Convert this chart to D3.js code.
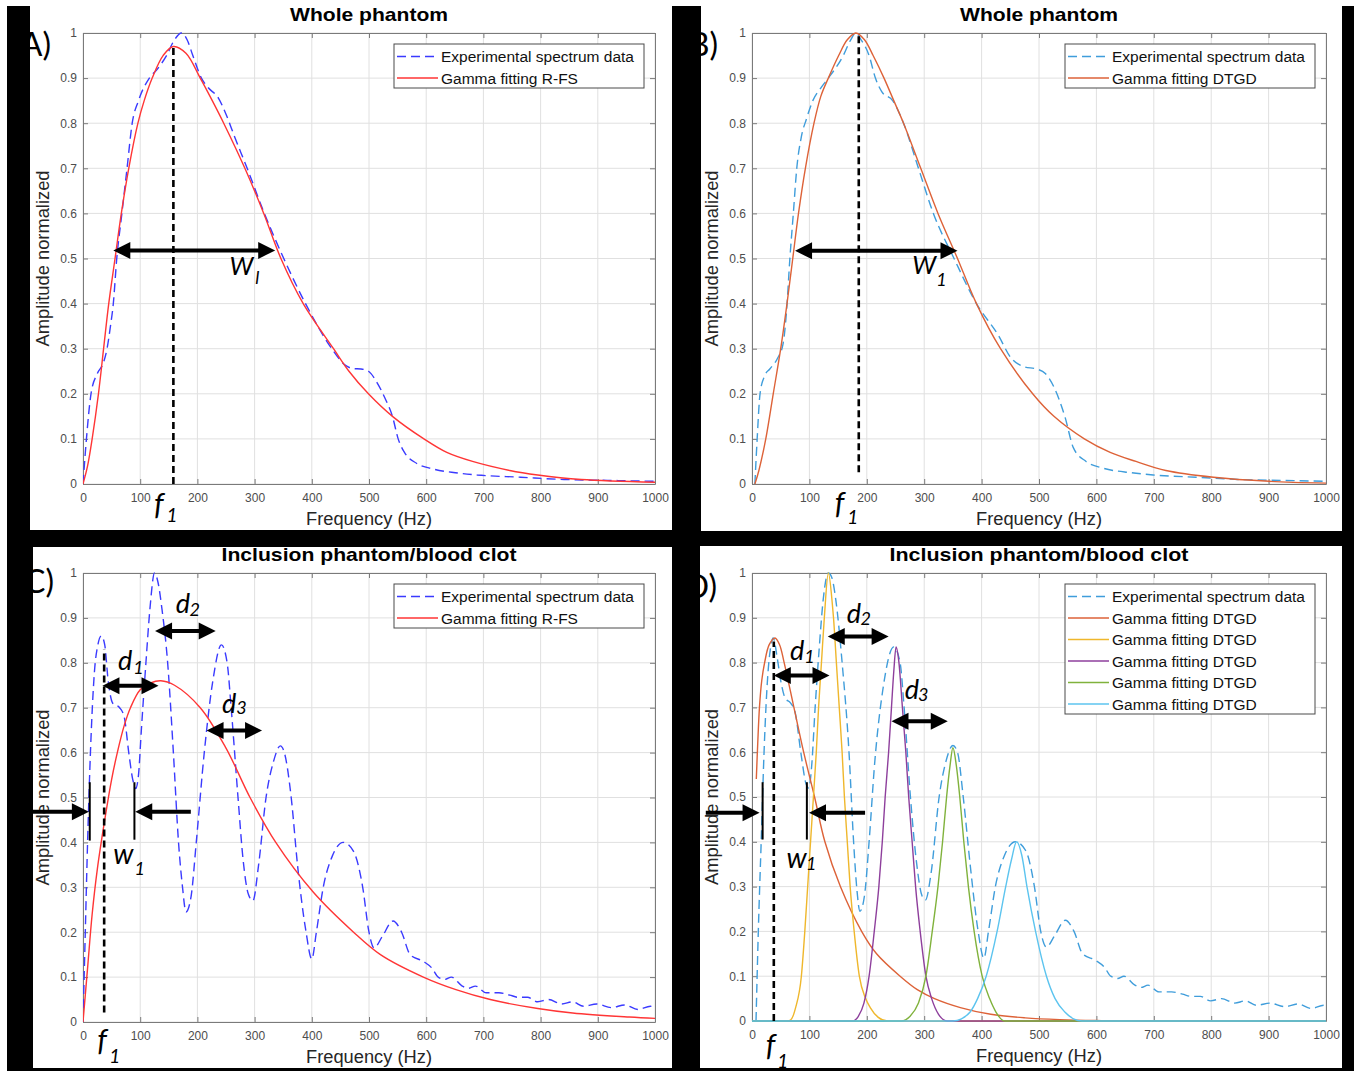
<!DOCTYPE html>
<html>
<head>
<meta charset="utf-8">
<script src="https://cdn.jsdelivr.net/npm/d3@7"></script>
<style>
  body { margin: 0; background: #fff; }
</style>
</head>
<body>
<div id="chart"></div>
<script>
const width = 1354;
const height = 1071;

// ---- Data: [frequency Hz, normalized amplitude] ----
const xTicks = d3.range(0, 1001, 100);
const yTicks = d3.range(0, 11).map(i => i / 10);

// A) whole phantom, R-FS
const expA = [[0,0],[6,0.1],[14,0.2],[25,0.245],[36,0.27],[42,0.3],[48,0.35],[53,0.4],[59,0.5],[68,0.6],[77,0.7],[86,0.8],[97,0.85],[116,0.9],[130,0.92],[146,0.95],[160,0.985],[172,1.0],[182,0.985],[192,0.95],[207,0.9],[218,0.88],[237,0.855],[250,0.82],[265,0.77],[287,0.7],[317,0.6],[351,0.5],[389,0.4],[435,0.3],[457,0.265],[472,0.256],[486,0.255],[499,0.25],[514,0.225],[528,0.19],[541,0.15],[551,0.1],[562,0.07],[583,0.046],[613,0.033],[651,0.025],[689,0.02],[765,0.015],[841,0.01],[917,0.008],[1000,0.006]];
const fitA = [[0,0],[8,0.04],[16,0.1],[27,0.2],[36,0.3],[45,0.4],[56,0.5],[67,0.6],[80,0.7],[96,0.8],[107,0.85],[121,0.9],[140,0.95],[158,0.97],[180,0.955],[205,0.9],[226,0.85],[246,0.8],[283,0.7],[316,0.6],[346,0.5],[385,0.4],[438,0.3],[465,0.25],[499,0.2],[541,0.15],[596,0.1],[636,0.07],[681,0.05],[746,0.03],[795,0.02],[871,0.01],[1000,0.004]];

// B) whole phantom, DTGD
const expB = [[5,0],[9,0.1],[14,0.2],[22,0.24],[31,0.255],[45,0.28],[54,0.31],[60,0.38],[66,0.5],[72,0.6],[78,0.7],[86,0.77],[95,0.81],[106,0.85],[121,0.88],[133,0.9],[159,0.95],[172,0.985],[181,1.0],[190,0.985],[204,0.95],[215,0.9],[226,0.87],[245,0.85],[264,0.8],[290,0.7],[316,0.6],[352,0.5],[391,0.4],[429,0.33],[451,0.28],[474,0.26],[496,0.255],[511,0.245],[526,0.215],[545,0.15],[560,0.08],[582,0.05],[612,0.035],[661,0.025],[699,0.02],[774,0.015],[849,0.01],[924,0.008],[1000,0.006]];
const fitB = [[5,0],[12,0.03],[24,0.1],[37,0.2],[50,0.3],[61,0.4],[71,0.5],[81,0.6],[93,0.7],[108,0.8],[120,0.86],[133,0.9],[151,0.95],[166,0.985],[181,1.0],[196,0.985],[211,0.95],[230,0.9],[247,0.85],[264,0.8],[294,0.7],[324,0.6],[358,0.5],[391,0.4],[433,0.3],[489,0.2],[526,0.15],[579,0.1],[624,0.07],[669,0.05],[721,0.03],[804,0.015],[901,0.006],[1000,0.002]];

// C) inclusion phantom / blood clot, R-FS
const expC = [[0,0],[4,0.2],[8,0.4],[13,0.6],[20,0.78],[26,0.84],[32,0.86],[38,0.84],[44,0.76],[52,0.71],[64,0.7],[72,0.68],[80,0.6],[87,0.54],[92,0.52],[97,0.55],[102,0.65],[110,0.8],[117,0.92],[125,1.0],[131,0.98],[138,0.92],[148,0.8],[158,0.6],[167,0.4],[174,0.3],[180,0.245],[189,0.28],[198,0.4],[212,0.6],[227,0.76],[242,0.84],[252,0.8],[259,0.7],[271,0.5],[280,0.36],[289,0.285],[297,0.27],[307,0.35],[320,0.5],[333,0.58],[345,0.615],[352,0.6],[364,0.5],[375,0.35],[390,0.2],[400,0.14],[408,0.2],[420,0.3],[436,0.37],[455,0.4],[473,0.38],[489,0.3],[500,0.2],[509,0.165],[523,0.19],[542,0.225],[557,0.2],[572,0.15],[595,0.135],[610,0.12],[621,0.1],[633,0.095],[644,0.1],[663,0.08],[674,0.075],[686,0.08],[705,0.065],[727,0.065],[746,0.06],[761,0.055],[777,0.055],[795,0.045],[814,0.05],[837,0.04],[856,0.045],[875,0.035],[898,0.04],[924,0.032],[947,0.038],[970,0.028],[992,0.035],[1000,0.033]];
const fitC = [[0,0],[8,0.12],[16,0.24],[25,0.34],[38,0.45],[50,0.54],[60,0.6],[72,0.66],[83,0.7],[100,0.74],[118,0.755],[136,0.76],[160,0.75],[205,0.7],[250,0.61],[292,0.5],[337,0.4],[402,0.29],[473,0.2],[520,0.15],[595,0.1],[652,0.072],[712,0.05],[795,0.03],[856,0.02],[955,0.011],[1000,0.008]];

// D) inclusion phantom / blood clot, DTGD (five gamma components)
const expD = [[7,0],[11,0.2],[16,0.4],[21,0.6],[28,0.78],[32,0.83],[37,0.855],[44,0.81],[50,0.76],[58,0.72],[67,0.71],[75,0.69],[85,0.6],[94,0.53],[99,0.52],[104,0.57],[110,0.7],[117,0.83],[124,0.94],[133,1.0],[139,0.99],[146,0.94],[157,0.8],[169,0.6],[177,0.4],[183,0.29],[188,0.245],[196,0.28],[204,0.4],[214,0.58],[228,0.74],[247,0.835],[258,0.8],[265,0.7],[276,0.5],[287,0.35],[296,0.28],[302,0.27],[312,0.33],[326,0.5],[338,0.58],[350,0.615],[358,0.6],[368,0.5],[380,0.35],[394,0.2],[404,0.14],[412,0.2],[424,0.3],[440,0.37],[459,0.4],[477,0.38],[492,0.3],[503,0.2],[513,0.165],[527,0.19],[546,0.225],[561,0.2],[576,0.15],[599,0.135],[614,0.12],[625,0.1],[637,0.095],[648,0.1],[667,0.08],[678,0.075],[690,0.08],[709,0.065],[731,0.065],[750,0.06],[765,0.055],[781,0.055],[799,0.045],[818,0.05],[841,0.04],[860,0.045],[879,0.035],[902,0.04],[928,0.032],[951,0.038],[974,0.028],[996,0.035],[1000,0.034]];
const fitD1 = [[7.5,0.54],[10,0.62],[13,0.7],[17,0.76],[22,0.8],[30,0.84],[40,0.855],[48,0.84],[56,0.8],[73,0.7],[90,0.6],[109,0.5],[127,0.4],[154,0.3],[191,0.2],[217,0.15],[258,0.1],[288,0.07],[318,0.05],[363,0.03],[416,0.015],[476,0.007],[536,0.003],[600,0.001],[700,0],[1000,0]];
const fitD2 = [[0,0],[60,0],[67,0.002],[76,0.03],[86,0.1],[92,0.2],[97,0.3],[102,0.4],[107,0.5],[112,0.6],[116,0.7],[121,0.8],[126,0.9],[133,1.0],[140,0.93],[142,0.9],[147,0.8],[152,0.7],[157,0.6],[161,0.5],[166,0.4],[171,0.3],[178,0.2],[187,0.1],[198,0.05],[206,0.03],[220,0.008],[236,0],[1000,0]];
const fitD3 = [[0,0],[175,0],[185,0.01],[195,0.04],[204,0.1],[213,0.2],[221,0.3],[227,0.4],[232,0.5],[238,0.6],[243,0.7],[247,0.78],[251,0.835],[256,0.8],[262,0.7],[268,0.6],[273,0.5],[279,0.4],[285,0.3],[293,0.2],[303,0.1],[313,0.05],[325,0.015],[340,0],[1000,0]];
const fitD4 = [[0,0],[260,0],[275,0.01],[290,0.04],[303,0.1],[314,0.2],[324,0.3],[332,0.4],[339,0.5],[345,0.57],[350,0.61],[356,0.57],[362,0.5],[369,0.4],[377,0.3],[387,0.2],[401,0.1],[414,0.05],[425,0.02],[440,0],[1000,0]];
const fitD5 = [[0,0],[350,0],[365,0.005],[380,0.02],[393,0.05],[408,0.1],[427,0.2],[442,0.3],[452,0.36],[461,0.4],[470,0.37],[479,0.3],[494,0.2],[513,0.1],[528,0.05],[545,0.02],[560,0.005],[575,0],[1000,0]];

// Annotations, in data units (Hz, amplitude)
const annA = {
  fLine: [158, 0, 0.97],
  arrows: [[53, 336, 0.518, true]],
  bars: [],
  labels: [["W", 256, 0.463, 25], ["l", 301, 0.443, 18], ["f", 124, -0.069, 30], ["1", 146, -0.084, 19]]
};
const annB = {
  fLine: [186, 0.026, 1.0],
  arrows: [[75, 358, 0.517, true]],
  bars: [],
  labels: [["W", 279, 0.465, 25], ["1", 321, 0.44, 18], ["f", 144, -0.066, 30], ["1", 166, -0.089, 19]]
};
const annC = {
  fLine: [37, 0.021, 0.83],
  arrows: [[34, 132, 0.749, true], [126, 232, 0.871, true], [216, 313, 0.649, true],
           [-88, 10.3, 0.468, false], [188.5, 91.4, 0.468, false]],
  bars: [[11.8, 0.404, 0.534], [89.9, 0.406, 0.534]],
  labels: [["d", 61, 0.783, 27], ["1", 88, 0.775, 18], ["d", 162, 0.911, 27], ["2", 186, 0.904, 18],
           ["d", 243, 0.689, 27], ["3", 268, 0.685, 18], ["w", 53, 0.353, 28], ["1", 90, 0.328, 18],
           ["f", 25, -0.065, 30], ["1", 46, -0.092, 19]]
};
const annD = {
  fLine: [38, 0, 0.847],
  arrows: [[38, 135, 0.771, true], [132, 238, 0.858, true], [243, 341, 0.669, true],
           [-80.5, 13.2, 0.465, false], [197, 99.3, 0.465, false]],
  bars: [[18.5, 0.405, 0.533], [95.6, 0.405, 0.533]],
  labels: [["d", 66, 0.805, 27], ["1", 91, 0.8, 18], ["d", 165, 0.888, 27], ["2", 189, 0.884, 18],
           ["d", 266, 0.718, 27], ["3", 289, 0.714, 18], ["w", 60, 0.342, 28], ["1", 94, 0.337, 18],
           ["f", 24, -0.079, 30], ["1", 44, -0.106, 19]]
};

// Colors (MATLAB-like)
const blueDash = "#3a3aff";
const redFit = "#ff3535";
const blueExp = "#3f9ddb";
const orange = "#dd6238";
const yellow = "#efb72c";
const purple = "#8e3f9c";
const green = "#80b23c";
const cyan = "#5cc4ef";

const panels = [
  { id: "A", frame: [30, 0, 672, 530], plot: [83, 33, 655, 484], title: "Whole phantom", titleW: 158,
    letter: [51, 56], letterText: "A)",
    series: [{ data: expA, color: blueDash, dash: "9,5", name: "Experimental spectrum data" },
             { data: fitA, color: redFit, name: "Gamma fitting R-FS", smooth: true }],
    ann: annA },
  { id: "B", frame: [701, 0, 1342, 531], plot: [752, 33, 1326, 484], title: "Whole phantom", titleW: 158,
    letter: [718, 56], letterText: "B)",
    series: [{ data: expB, color: blueExp, dash: "9,5", name: "Experimental spectrum data" },
             { data: fitB, color: orange, name: "Gamma fitting DTGD", smooth: true }],
    ann: annB },
  { id: "C", frame: [33, 547, 672, 1068], plot: [83, 573, 655, 1022], title: "Inclusion phantom/blood clot", titleW: 295,
    letter: [54, 593], letterText: "C)",
    series: [{ data: expC, color: blueDash, dash: "9,5", name: "Experimental spectrum data" },
             { data: fitC, color: redFit, name: "Gamma fitting R-FS", smooth: true }],
    ann: annC },
  { id: "D", frame: [700, 546, 1342, 1068], plot: [752, 573, 1326, 1021], title: "Inclusion phantom/blood clot", titleW: 299,
    letter: [717, 598], letterText: "D)",
    series: [{ data: expD, color: blueExp, dash: "9,5", name: "Experimental spectrum data" },
             { data: fitD1, color: orange, name: "Gamma fitting DTGD", smooth: true },
             { data: fitD2, color: yellow, name: "Gamma fitting DTGD" },
             { data: fitD3, color: purple, name: "Gamma fitting DTGD" },
             { data: fitD4, color: green, name: "Gamma fitting DTGD" },
             { data: fitD5, color: cyan, name: "Gamma fitting DTGD" }],
    ann: annD }
];

const svg = d3.select("#chart")
  .append("svg")
  .attr("width", width)
  .attr("height", height)
  .style("display", "block")
  .style("background", "#fff");

// black backdrop between panels
svg.append("rect")
  .attr("x", 7).attr("y", 6)
  .attr("width", width - 7).attr("height", height - 6)
  .attr("fill", "#000");

const defs = svg.append("defs");
const sansFont = "'Liberation Sans', Arial, Helvetica, sans-serif";
const noteFont = "Lato, 'Open Sans', sans-serif";

panels.forEach(drawPanel);

function drawPanel(p) {
  const [fx0, fy0, fx1, fy1] = p.frame;
  const [l, t, r, b] = p.plot;

  defs.append("clipPath").attr("id", "frame" + p.id)
    .append("rect").attr("x", fx0).attr("y", fy0).attr("width", fx1 - fx0).attr("height", fy1 - fy0);
  defs.append("clipPath").attr("id", "plot" + p.id)
    .append("rect").attr("x", l).attr("y", t - 1).attr("width", r - l).attr("height", b - t + 2);

  const g = svg.append("g").attr("clip-path", `url(#frame${p.id})`);
  g.append("rect")
    .attr("x", fx0).attr("y", fy0)
    .attr("width", fx1 - fx0).attr("height", fy1 - fy0)
    .attr("fill", "#fff");

  const x = d3.scaleLinear().domain([0, 1000]).range([l, r]);
  const y = d3.scaleLinear().domain([0, 1]).range([b, t]);

  // grid
  g.append("g").selectAll("line").data(xTicks).join("line")
    .attr("x1", d => x(d)).attr("x2", d => x(d)).attr("y1", t).attr("y2", b)
    .attr("stroke", "#e0e0e0").attr("stroke-width", 1);
  g.append("g").selectAll("line").data(yTicks).join("line")
    .attr("x1", l).attr("x2", r).attr("y1", d => y(d)).attr("y2", d => y(d))
    .attr("stroke", "#e0e0e0").attr("stroke-width", 1);

  // axes (MATLAB style: ticks inside, box on)
  const fmt = d3.format("~g");
  const axisColor = "#7a7a7a";
  const xAxis = g.append("g").attr("transform", `translate(0,${b})`)
    .call(d3.axisBottom(x).tickValues(xTicks).tickSizeInner(-5).tickSizeOuter(0).tickPadding(9).tickFormat(fmt));
  const yAxis = g.append("g").attr("transform", `translate(${l},0)`)
    .call(d3.axisLeft(y).tickValues(yTicks).tickSizeInner(-5).tickSizeOuter(0).tickPadding(6).tickFormat(fmt));
  const xTop = g.append("g").attr("transform", `translate(0,${t})`)
    .call(d3.axisTop(x).tickValues(xTicks).tickSizeInner(-5).tickSizeOuter(0).tickFormat(""));
  const yRight = g.append("g").attr("transform", `translate(${r},0)`)
    .call(d3.axisRight(y).tickValues(yTicks).tickSizeInner(-5).tickSizeOuter(0).tickFormat(""));
  [xAxis, yAxis, xTop, yRight].forEach(a => {
    a.selectAll(".domain").attr("stroke", axisColor);
    a.selectAll(".tick line").attr("stroke", axisColor);
    a.selectAll("text")
      .attr("fill", "#4d4d4d")
      .style("font-family", sansFont)
      .style("font-size", "12px");
  });

  // title and axis labels
  g.append("text")
    .attr("x", (l + r) / 2).attr("y", t - 12)
    .attr("text-anchor", "middle")
    .attr("textLength", p.titleW).attr("lengthAdjust", "spacingAndGlyphs")
    .style("font-family", sansFont).style("font-weight", "bold").style("font-size", "19px")
    .attr("fill", "#000")
    .text(p.title);
  g.append("text")
    .attr("x", (l + r) / 2).attr("y", b + 41)
    .attr("text-anchor", "middle")
    .attr("textLength", 126).attr("lengthAdjust", "spacingAndGlyphs")
    .style("font-family", sansFont).style("font-size", "17.5px")
    .attr("fill", "#262626")
    .text("Frequency (Hz)");
  g.append("text")
    .attr("transform", `translate(${l - 34},${(t + b) / 2}) rotate(-90)`)
    .attr("text-anchor", "middle")
    .attr("textLength", 176).attr("lengthAdjust", "spacingAndGlyphs")
    .style("font-family", sansFont).style("font-size", "17.5px")
    .attr("fill", "#262626")
    .text("Amplitude normalized");

  // curves: measured spectra keep their sharp peaks, fitted curves are smooth
  const jagged = d3.line().x(d => x(d[0])).y(d => y(d[1])).curve(d3.curveMonotoneX);
  const smooth = d3.line().x(d => x(d[0])).y(d => y(d[1])).curve(d3.curveCatmullRom.alpha(0.5));
  const curves = g.append("g").attr("clip-path", `url(#plot${p.id})`);
  p.series.forEach(s => {
    curves.append("path")
      .attr("d", (s.smooth ? smooth : jagged)(s.data))
      .attr("fill", "none")
      .attr("stroke", s.color)
      .attr("stroke-width", 1.4)
      .attr("stroke-dasharray", s.dash || null);
  });

  // legend
  const lw = 250, rowH = 21.5;
  const lx = r - 11 - lw, ly = t + 11;
  const lg = g.append("g");
  lg.append("rect")
    .attr("x", lx).attr("y", ly)
    .attr("width", lw).attr("height", p.series.length * rowH + 1)
    .attr("fill", "#fff").attr("stroke", "#4a4a4a").attr("stroke-width", 1);
  p.series.forEach((s, i) => {
    const cy = ly + 12.5 + i * rowH;
    lg.append("line")
      .attr("x1", lx + 3).attr("x2", lx + 44).attr("y1", cy).attr("y2", cy)
      .attr("stroke", s.color).attr("stroke-width", 1.4)
      .attr("stroke-dasharray", s.dash || null);
    lg.append("text")
      .attr("x", lx + 47).attr("y", cy + 5.5)
      .style("font-family", sansFont).style("font-size", "15.5px")
      .attr("fill", "#111")
      .text(s.name);
  });

  // annotations
  const an = g.append("g");
  const [fx, fyA, fyB] = p.ann.fLine;
  an.append("line")
    .attr("x1", x(fx)).attr("x2", x(fx)).attr("y1", y(fyA)).attr("y2", y(fyB))
    .attr("stroke", "#000").attr("stroke-width", 2.6).attr("stroke-dasharray", "7,4");

  p.ann.bars.forEach(([bx, by0, by1]) => {
    an.append("line")
      .attr("x1", x(bx)).attr("x2", x(bx)).attr("y1", y(by0)).attr("y2", y(by1))
      .attr("stroke", "#000").attr("stroke-width", 2);
  });

  p.ann.arrows.forEach(([a0, a1, ay, both]) => drawArrow(an, x(a0), x(a1), y(ay), both));

  p.ann.labels.forEach(([txt, lxv, lyv, size]) => {
    an.append("text")
      .attr("x", x(lxv)).attr("y", y(lyv))
      .style("font-family", noteFont).style("font-style", "italic")
      .style("font-size", size + "px")
      .attr("fill", "#000")
      .text(txt);
  });

  // panel letter, partly hidden by the black border
  g.append("text")
    .attr("x", p.letter[0]).attr("y", p.letter[1])
    .attr("text-anchor", "end")
    .style("font-family", noteFont).style("font-size", "32px")
    .attr("fill", "#000")
    .text(p.letterText);
}

function drawArrow(g, x0, x1, yy, both) {
  const dir = Math.sign(x1 - x0);
  const hl = 17, hw = 8.5;
  const s0 = both ? x0 + dir * hl * 0.7 : x0;
  const s1 = x1 - dir * hl * 0.7;
  g.append("line")
    .attr("x1", s0).attr("x2", s1).attr("y1", yy).attr("y2", yy)
    .attr("stroke", "#000").attr("stroke-width", 4);
  g.append("path")
    .attr("d", `M${x1},${yy}L${x1 - dir * hl},${yy - hw}L${x1 - dir * hl},${yy + hw}Z`)
    .attr("fill", "#000");
  if (both) {
    g.append("path")
      .attr("d", `M${x0},${yy}L${x0 + dir * hl},${yy - hw}L${x0 + dir * hl},${yy + hw}Z`)
      .attr("fill", "#000");
  }
}
</script>
</body>
</html>
